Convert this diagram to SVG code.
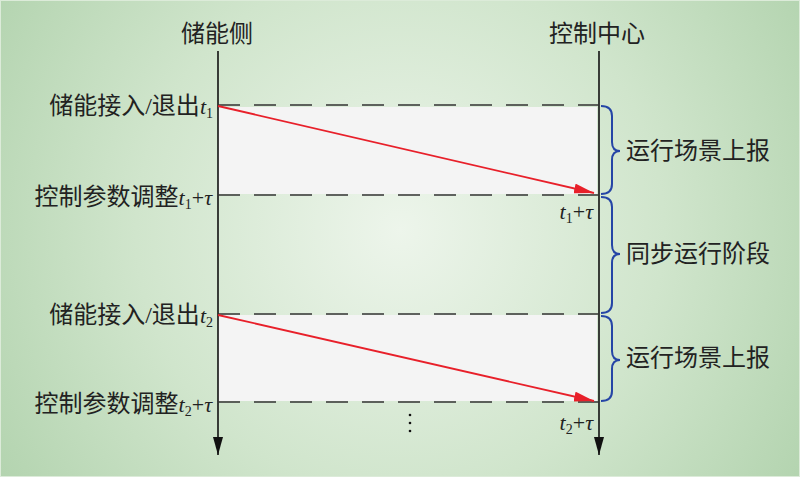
<svg xmlns="http://www.w3.org/2000/svg" width="800" height="477" viewBox="0 0 800 477">
<defs>
<radialGradient id="bg" cx="400" cy="230" r="480" gradientUnits="userSpaceOnUse">
<stop offset="0" stop-color="#edf5eb"/>
<stop offset="0.55" stop-color="#d0e5cc"/>
<stop offset="1" stop-color="#b2d3ae"/>
</radialGradient>
<marker id="ah-black" viewBox="0 0 18 10" refX="18" refY="5" markerWidth="18" markerHeight="10" markerUnits="userSpaceOnUse" orient="auto">
<path d="M0,0 L18,5 L0,10 Z" fill="#111"/>
</marker>
<marker id="ah-red" viewBox="0 0 20 10" refX="20" refY="5" markerWidth="20" markerHeight="10" markerUnits="userSpaceOnUse" orient="auto">
<path d="M0,0 L20,5 L0,10 Z" fill="#e8202a"/>
</marker>
</defs>
<style>
.cjk{font-family:"Liberation Serif","Noto Sans CJK SC",serif;font-size:24px;fill:#222}
.it{font-family:"Liberation Serif",serif;font-style:italic;font-size:22px}
.rm{font-family:"Liberation Serif",serif;font-size:22px}
.sub{font-family:"Liberation Serif",serif;font-size:14px}
.dash{stroke:#333;stroke-width:1.6;stroke-dasharray:22 14;fill:none}
.life{stroke:#111;stroke-width:1.6;fill:none}
.msg{stroke:#e8202a;stroke-width:1.8;fill:none}
.brace{stroke:#2545a6;stroke-width:2;fill:none}
.band{fill:#f4f4f4}
</style>
<rect x="0" y="0" width="800" height="477" fill="url(#bg)"/>
<rect x="0.5" y="0.5" width="799" height="476" fill="none" stroke="#dcebd9" stroke-width="1"/>

<g id="bands">
<rect class="band" x="218" y="107" width="379" height="87"/>
<rect class="band" x="218" y="315" width="379" height="86"/>
</g>

<g id="node-storage">
<text class="cjk" x="217" y="42" text-anchor="middle">储能侧</text>
</g>
<g id="node-control">
<text class="cjk" x="597" y="42" text-anchor="middle">控制中心</text>
</g>

<g id="connectors">
<line class="life" x1="218" y1="51" x2="218" y2="455" marker-end="url(#ah-black)"/>
<line class="life" x1="599" y1="51" x2="599" y2="455" marker-end="url(#ah-black)"/>
<line class="dash" x1="218" y1="105" x2="599" y2="105"/>
<line class="dash" x1="218" y1="195" x2="599" y2="195"/>
<line class="dash" x1="218" y1="314" x2="599" y2="314"/>
<line class="dash" x1="218" y1="402" x2="599" y2="402"/>
<line class="msg" x1="218" y1="106" x2="594" y2="193" marker-end="url(#ah-red)"/>
<line class="msg" x1="218" y1="315" x2="594" y2="401" marker-end="url(#ah-red)"/>
<path class="brace" d="M601,106 Q612,106 612,116 L612,142 Q612,151 620,151 Q612,151 612,160 L612,184 Q612,194 601,194"/>
<path class="brace" d="M601,197 Q612,197 612,207 L612,245 Q612,254 620,254 Q612,254 612,263 L612,303 Q612,313 601,313"/>
<path class="brace" d="M601,316 Q612,316 612,326 L612,351 Q612,360 620,360 Q612,360 612,369 L612,391 Q612,401 601,401"/>
</g>

<g id="labels-left">
<text class="cjk" x="213" y="114" text-anchor="end">储能接入/退出<tspan class="it">t</tspan><tspan class="sub" dy="4">1</tspan></text>
<text class="cjk" x="212" y="205" text-anchor="end">控制参数调整<tspan class="it">t</tspan><tspan class="sub" dy="4">1</tspan><tspan class="rm" dy="-4">+</tspan><tspan class="it">τ</tspan></text>
<text class="cjk" x="213" y="323" text-anchor="end">储能接入/退出<tspan class="it">t</tspan><tspan class="sub" dy="4">2</tspan></text>
<text class="cjk" x="212" y="412" text-anchor="end">控制参数调整<tspan class="it">t</tspan><tspan class="sub" dy="4">2</tspan><tspan class="rm" dy="-4">+</tspan><tspan class="it">τ</tspan></text>
</g>

<g id="labels-right">
<text class="cjk" x="593" y="219" text-anchor="end"><tspan class="it">t</tspan><tspan class="sub" dy="4">1</tspan><tspan class="rm" dy="-4">+</tspan><tspan class="it">τ</tspan></text>
<text class="cjk" x="593" y="430" text-anchor="end"><tspan class="it">t</tspan><tspan class="sub" dy="4">2</tspan><tspan class="rm" dy="-4">+</tspan><tspan class="it">τ</tspan></text>
<text class="cjk" x="626" y="159">运行场景上报</text>
<text class="cjk" x="626" y="262">同步运行阶段</text>
<text class="cjk" x="626" y="366">运行场景上报</text>
</g>

<g id="ellipsis">
<circle cx="410" cy="415" r="1.3" fill="#111"/>
<circle cx="410" cy="423" r="1.3" fill="#111"/>
<circle cx="410" cy="431" r="1.3" fill="#111"/>
</g>
</svg>
